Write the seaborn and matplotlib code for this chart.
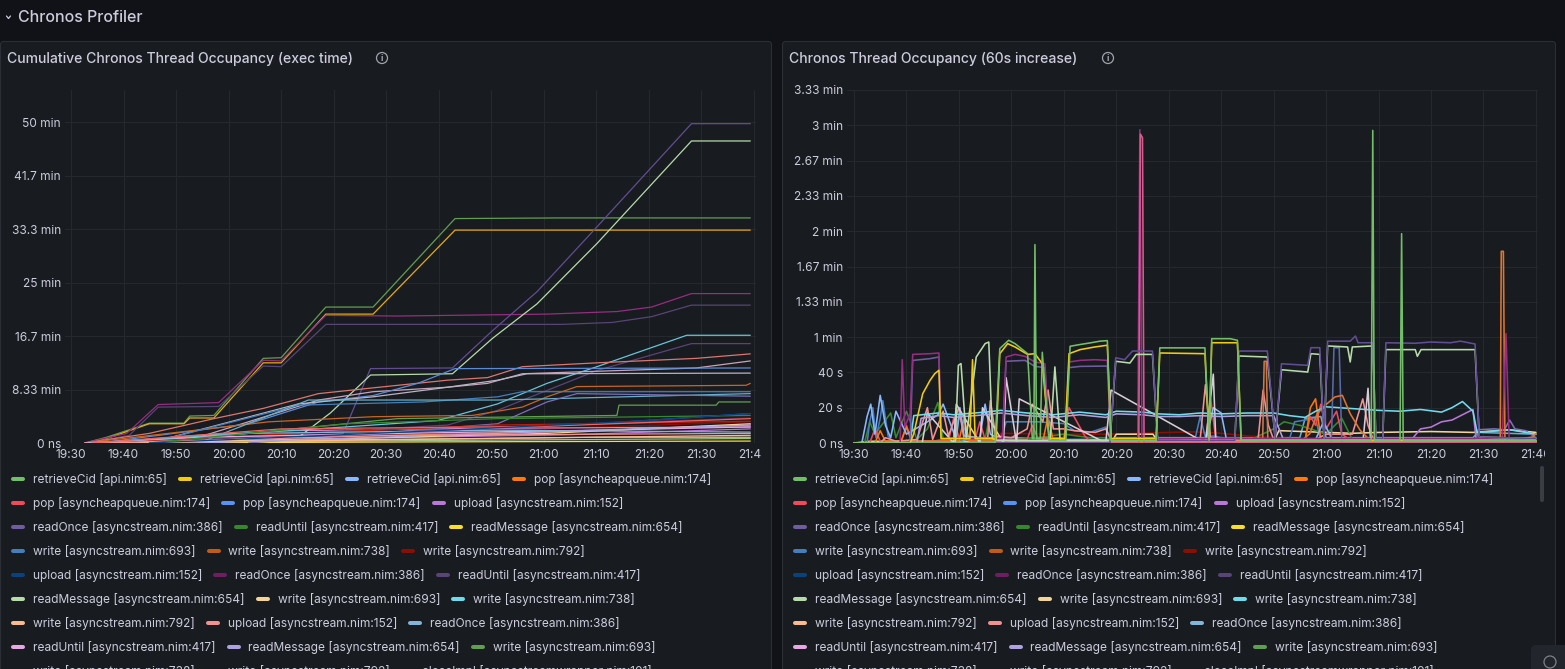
import matplotlib
matplotlib.use("Agg")
import matplotlib.pyplot as plt
from matplotlib.patches import FancyBboxPatch, Circle
from matplotlib.transforms import Bbox
import pandas as pd
import seaborn as sns

sns.set_theme(style="dark")
plt.rcParams["font.family"] = ["Inter", "DejaVu Sans"]

# ---- axis ticks (minutes after 19:30) ----
time_ticks = [0, 10, 20, 30, 40, 50, 60, 70, 80, 90, 100, 110, 120, 130]
time_labels = ["19:30", "19:40", "19:50", "20:00", "20:10", "20:20", "20:30",
               "20:40", "20:50", "21:00", "21:10", "21:20", "21:30", "21:40"]
cum_yticks = [0, 8.333, 16.667, 25, 33.333, 41.667, 50]
cum_ylabels = ["0 ns", "8.33 min", "16.7 min", "25 min", "33.3 min", "41.7 min", "50 min"]
inc_yticks = [0, 20, 40, 60, 80, 100, 120, 140, 160, 180, 200]
inc_ylabels = ["0 ns", "20 s", "40 s", "1 min", "1.33 min", "1.67 min", "2 min",
               "2.33 min", "2.67 min", "3 min", "3.33 min"]

# ---- legend ----
legend_labels = [
    "retrieveCid [api.nim:65]", "retrieveCid [api.nim:65]", "retrieveCid [api.nim:65]",
    "pop [asyncheapqueue.nim:174]", "pop [asyncheapqueue.nim:174]", "pop [asyncheapqueue.nim:174]",
    "upload [asyncstream.nim:152]", "readOnce [asyncstream.nim:386]", "readUntil [asyncstream.nim:417]",
    "readMessage [asyncstream.nim:654]", "write [asyncstream.nim:693]", "write [asyncstream.nim:738]",
    "write [asyncstream.nim:792]", "upload [asyncstream.nim:152]", "readOnce [asyncstream.nim:386]",
    "readUntil [asyncstream.nim:417]", "readMessage [asyncstream.nim:654]", "write [asyncstream.nim:693]",
    "write [asyncstream.nim:738]", "write [asyncstream.nim:792]", "upload [asyncstream.nim:152]",
    "readOnce [asyncstream.nim:386]", "readUntil [asyncstream.nim:417]", "readMessage [asyncstream.nim:654]",
    "write [asyncstream.nim:693]", "write [asyncstream.nim:738]", "write [asyncstream.nim:792]",
    "closeImpl [asyncstreamwrapper.nim:101]",
]
legend_colors = [
    "#73BF69", "#F2CC0C", "#8AB8FF", "#FF780A", "#F2495C", "#5794F2", "#B877D9",
    "#705DA0", "#37872D", "#FADE2A", "#447EBC", "#C15C17", "#890F02", "#0A437C",
    "#6D1F62", "#584477", "#B7DBAB", "#F4D598", "#70DBED", "#F9BA8F", "#F29191",
    "#82B5D8", "#E5A8E2", "#AEA2E0", "#629E51", "#E5AC0E", "#64B0C8", "#E0752D",
]

# ---- cumulative panel (t: minutes after 19:30, v: minutes) ----
cum_a_t = [2.6, 6.8, 14.9, 21.5, 22.6, 27.2, 36.6, 40.0, 48.5, 57.5, 73.1, 93.0, 129.3]
cum_a_v = [0, 0.9, 3.1, 3.1, 4.2, 4.3, 13.2, 13.3, 21.2, 21.2, 35.0, 35.1, 35.1]
cum_b_t = [3.5, 6.8, 14.9, 21.5, 22.6, 27.2, 36.6, 40.0, 48.5, 57.5, 73.1, 129.3]
cum_b_v = [0, 0.7, 3.0, 3.0, 3.9, 3.9, 12.5, 12.5, 20.1, 20.1, 33.2, 33.2]
cum_c_t = [2.6, 10.6, 16.6, 20.5, 28.1, 36.6, 40.0, 48.5, 62.2, 71.7, 90.6, 103.9, 110.5, 118.1, 129.3]
cum_c_v = [0, 1.5, 6.0, 6.1, 6.3, 12.9, 12.8, 19.9, 19.8, 19.9, 20.1, 20.5, 21.2, 23.3, 23.3]
cum_d_t = [3.5, 11.1, 16.6, 28.1, 36.6, 40.0, 48.5, 93.5, 103.0, 110.5, 118.1, 129.3]
cum_d_v = [0, 1.2, 5.6, 5.7, 12.0, 11.9, 18.5, 18.5, 18.8, 19.7, 21.5, 21.5]
cum_e_t = [5.4, 24.3, 43.3, 51.8, 57.0, 72.6, 80.2, 88.7, 100.1, 118.1, 129.3]
cum_e_v = [0, 0.7, 1.2, 1.5, 11.6, 11.7, 17.5, 23.6, 33.7, 49.8, 49.8]
cum_f_t = [14.9, 33.8, 43.3, 49.4, 57.0, 72.6, 80.2, 88.7, 100.1, 118.1, 129.3]
cum_f_v = [0, 0.7, 0.9, 4.7, 10.6, 10.8, 16.3, 21.7, 31.1, 47.1, 47.1]
cum_g_t = [5.4, 24.3, 43.3, 69.8, 81.2, 90.6, 100.1, 117.2, 129.3]
cum_g_v = [0, 1.2, 2.0, 3.5, 6.1, 9.3, 11.9, 16.8, 16.8]
cum_h_t = [14.9, 43.3, 71.7, 81.2, 90.6, 100.1, 118.1, 129.3]
cum_h_v = [0, 1.5, 2.8, 5.1, 8.2, 11.3, 15.5, 15.5]
cum_i_t = [2.6, 14.9, 27.2, 36.6, 47.1, 57.5, 71.7, 79.3, 85.9, 100.1, 119.0, 129.3]
cum_i_v = [0, 1.5, 3.8, 5.4, 7.7, 8.6, 9.8, 10.2, 11.9, 12.5, 13.2, 13.9]
cum_j_t = [10.1, 24.3, 47.1, 57.5, 71.7, 79.3, 85.9, 119.0, 129.3]
cum_j_v = [0, 0.9, 6.7, 8.0, 8.7, 9.3, 10.8, 11.7, 12.8]
cum_k_t = [5.4, 33.8, 47.1, 57.5, 66.0, 73.1, 129.3]
cum_k_v = [0, 3.0, 6.4, 7.4, 9.3, 11.6, 11.7]
cum_l_t = [14.9, 43.3, 57.5, 71.7, 81.2, 86.8, 129.3]
cum_l_v = [0, 6.1, 7.2, 8.7, 9.8, 10.8, 10.9]
cum_m_t = [2.6, 37.6, 57.5, 76.4, 85.9, 90.6, 96.3, 128.5, 129.3]
cum_m_v = [0, 3.3, 4.1, 4.3, 5.6, 7.2, 8.8, 9.0, 9.3]
cum_n_t = [14.9, 43.3, 67.0, 81.2, 85.9, 129.3]
cum_n_v = [0, 5.9, 6.4, 7.2, 8.0, 8.0]
cum_o_t = [24.3, 45.2, 81.2, 129.3]
cum_o_v = [0, 6.7, 6.7, 7.7]
cum_p_t = [14.9, 62.2, 103.9, 104.3, 122.8, 123.3, 129.3]
cum_p_v = [0, 3.8, 4.3, 5.9, 5.9, 6.4, 6.4]
cum_q_t = [33.8, 81.2, 90.6, 96.3, 129.3]
cum_q_v = [0, 3.0, 6.4, 7.7, 7.3]
cum_r_t = [5.4, 43.3, 81.2, 129.3]
cum_r_v = [0, 1.5, 2.8, 3.4]
cum_s_t = [2.6, 24.3, 62.2, 100.1, 129.3]
cum_s_v = [0, 0.9, 1.5, 2.0, 2.5]
cum_u_t = [10.1, 52.7, 90.6, 129.3]
cum_u_v = [0, 0.7, 1.5, 3.0]
cum_w_t = [3.5, 33.8, 81.2, 129.3]
cum_w_v = [0, 1.5, 2.0, 1.7]
cum_x_t = [7.3, 52.7, 100.1, 129.3]
cum_x_v = [0, 0.5, 0.9, 0.9]
cum_y_t = [24.3, 81.2, 129.3]
cum_y_v = [0, 1.5, 2.8]
cum_z_t = [5.4, 62.2, 129.3]
cum_z_v = [0, 1.2, 1.5]
cum_aa_t = [14.9, 52.7, 81.2, 129.3]
cum_aa_v = [0, 3.0, 3.8, 4.3]
cum_ab_t = [4.0, 40.0, 90.0, 129.3]
cum_ab_v = [0, 2.2, 2.6, 3.8]
cum_ac_t = [14.9, 71.7, 109.5, 129.3]
cum_ac_v = [0, 2.0, 3.5, 4.6]
cum_ad_t = [3.0, 40.0, 90.0, 129.3]
cum_ad_v = [0, 0.8, 2.2, 3.3]
cum_ae_t = [6.0, 50.0, 100.0, 129.3]
cum_ae_v = [0, 1.0, 1.9, 2.8]
cum_af_t = [4.0, 45.0, 95.0, 129.3]
cum_af_v = [0, 0.6, 1.3, 2.2]
cum_ag_t = [8.0, 60.0, 129.3]
cum_ag_v = [0, 0.5, 1.2]
cum_ah_t = [3.0, 70.0, 129.3]
cum_ah_v = [0, 0.4, 0.7]
cum_ai_t = [5.0, 80.0, 129.3]
cum_ai_v = [0, 0.2, 0.3]
cum_aj_t = [12.0, 55.0, 85.0, 129.3]
cum_aj_v = [0, 1.4, 2.6, 3.9]
cum_ak_t = [20.0, 70.0, 100.0, 129.3]
cum_ak_v = [0, 1.8, 3.0, 4.6]
cum_al_t = [10.0, 40.0, 80.0, 129.3]
cum_al_v = [0, 1.9, 2.3, 2.5]

cum_series = [
    ("ah", cum_ah_t, cum_ah_v, "#9AC48A"), ("ai", cum_ai_t, cum_ai_v, "#FADE2A"),
    ("ag", cum_ag_t, cum_ag_v, "#F9BA8F"), ("af", cum_af_t, cum_af_v, "#B877D9"),
    ("ae", cum_ae_t, cum_ae_v, "#E0752D"), ("ad", cum_ad_t, cum_ad_v, "#890F02"),
    ("aj", cum_aj_t, cum_aj_v, "#6D1F62"), ("ak", cum_ak_t, cum_ak_v, "#1F60C4"),
    ("al", cum_al_t, cum_al_v, "#D683CE"),
    ("a", cum_a_t, cum_a_v, "#629E51"), ("b", cum_b_t, cum_b_v, "#E5AC0E"),
    ("c", cum_c_t, cum_c_v, "#962D82"), ("d", cum_d_t, cum_d_v, "#584477"),
    ("e", cum_e_t, cum_e_v, "#614D93"), ("f", cum_f_t, cum_f_v, "#B7DBAB"),
    ("g", cum_g_t, cum_g_v, "#65C5DB"), ("h", cum_h_t, cum_h_v, "#584477"),
    ("i", cum_i_t, cum_i_v, "#D9776F"), ("j", cum_j_t, cum_j_v, "#C9A3BB"),
    ("k", cum_k_t, cum_k_v, "#5A8BD6"), ("l", cum_l_t, cum_l_v, "#B8B4C4"),
    ("m", cum_m_t, cum_m_v, "#C8651F"), ("n", cum_n_t, cum_n_v, "#447EBC"),
    ("o", cum_o_t, cum_o_v, "#64B0C8"), ("p", cum_p_t, cum_p_v, "#629E51"),
    ("q", cum_q_t, cum_q_v, "#806EB7"), ("r", cum_r_t, cum_r_v, "#BF1B00"),
    ("s", cum_s_t, cum_s_v, "#E5A8E2"), ("u", cum_u_t, cum_u_v, "#F4D598"),
    ("w", cum_w_t, cum_w_v, "#82B5D8"), ("x", cum_x_t, cum_x_v, "#F9BA8F"),
    ("y", cum_y_t, cum_y_v, "#AEA2E0"), ("z", cum_z_t, cum_z_v, "#F29191"),
    ("aa", cum_aa_t, cum_aa_v, "#37872D"), ("ab", cum_ab_t, cum_ab_v, "#EA6460"),
    ("ac", cum_ac_t, cum_ac_v, "#0A437C"),
]

# ---- 60s increase panel (t: minutes after 19:30, v: seconds) ----
inc_lg_t = [0, 19.3, 19.9, 20.4, 21.4, 23.3, 25.0, 25.7, 26.4, 27.4, 37.4, 38.3, 39.3, 48.8, 49.9,
            52.6, 53.8, 56.9, 57.9, 72.6, 73.4, 78.8, 80.3, 81.5, 86.5, 87.1, 88.8, 89.6, 90.3,
            94.1, 94.6, 95.0, 98.9, 99.5, 100.8, 101.4, 107.0, 107.4, 108.1, 118.4, 119.2, 130.0]
inc_lg_v = [0, 0, 44.0, 45.0, 2.5, 48.7, 56.3, 57.2, 2.5, 1.5, 1.5, 43.1, 1.5, 1.5, 46.3,
            45.3, 50.2, 50.2, 1.5, 1.5, 49.3, 48.7, 2.5, 41.5, 40.2, 50.6, 50.2, 2.5, 55.0,
            54.4, 45.9, 54.4, 55.0, 2.5, 2.5, 52.9, 52.9, 49.1, 52.9, 52.9, 3.4, 2.5]
inc_pu_t = [0, 48.8, 49.9, 51.6, 53.1, 56.9, 57.9, 72.6, 73.4, 78.8, 80.3, 81.5, 86.5, 87.1, 88.8,
            89.6, 90.3, 94.6, 95.6, 96.1, 98.9, 99.5, 100.8, 101.4, 107.0, 109.9, 113.7, 115.6,
            118.4, 119.2, 130.0]
inc_pu_v = [0, 0, 48.3, 47.2, 52.1, 52.1, 1.5, 1.5, 52.1, 52.1, 2.5, 44.9, 44.0, 54.0, 54.0,
            2.5, 57.7, 57.7, 60.6, 56.8, 56.8, 2.5, 2.5, 56.8, 56.5, 57.2, 56.8, 57.7,
            56.1, 3.4, 2.5]
inc_ye_t = [0, 10.7, 11.4, 13.1, 14.5, 15.4, 16.2, 16.6, 22.1, 22.6, 23.1, 27.1, 27.8, 29.3, 30.7,
            33.1, 34.5, 35.9, 37.2, 40.2, 41.0, 43.1, 45.9, 48.3, 49.0, 57.6, 58.3, 66.9, 67.7,
            68.2, 73.1, 73.8, 130.0]
inc_ye_v = [0, 0, 5.3, 27.9, 35.5, 39.3, 41.2, 2.5, 2.5, 47.2, 2.5, 2.5, 50.6, 56.3, 54.4,
            50.2, 50.6, 44.9, 2.5, 2.5, 50.6, 52.9, 54.4, 55.4, 2.5, 2.5, 51.0, 50.6, 2.5,
            56.8, 56.8, 1.5, 1.5]
inc_gr_t = [0, 26.9, 27.8, 29.5, 30.7, 33.1, 34.0, 34.3, 34.5, 34.8, 35.5, 35.9, 37.2, 40.4, 41.2,
            43.1, 45.0, 46.9, 48.3, 49.0, 57.6, 58.3, 66.9, 67.7, 68.2, 71.7, 73.1, 73.8, 98.6,
            98.9, 99.2, 104.1, 104.4, 104.7, 130.0]
inc_gr_v = [0, 0, 53.5, 58.2, 56.3, 50.6, 2.5, 2.5, 112.4, 2.5, 2.5, 51.4, 1.5, 1.5, 54.8,
            55.8, 56.7, 57.7, 58.0, 1.5, 1.5, 53.9, 53.9, 1.5, 59.1, 59.1, 58.2, 1.5, 1.5,
            177.1, 1.5, 1.5, 118.6, 1.5, 1.5]
inc_mg_t = [0, 8.8, 9.2, 9.7, 10.7, 11.2, 14.5, 16.2, 16.6, 28.3, 29.0, 30.7, 32.6, 34.5, 36.4,
            37.2, 40.2, 41.0, 43.1, 45.9, 48.3, 49.0, 54.1, 54.5, 54.9, 123.6, 124.3, 124.9, 130.0]
inc_mg_v = [0, 0, 47.2, 9.1, 16.6, 50.2, 50.6, 51.0, 2.5, 2.5, 48.7, 50.2, 49.1, 45.9, 44.9,
            2.5, 2.5, 45.9, 46.8, 47.2, 46.8, 2.5, 2.5, 177.5, 2.5, 2.5, 62.0, 2.5, 1.5]
inc_dp_t = [0, 10.7, 11.2, 14.5, 16.2, 16.6, 28.3, 29.0, 32.6, 34.5, 36.4, 37.2, 40.2, 41.0, 43.1,
            48.3, 49.0, 130.0]
inc_dp_v = [0, 0, 46.8, 47.8, 48.7, 2.5, 2.5, 46.3, 46.8, 43.4, 42.7, 2.5, 2.5, 42.7, 43.4,
            43.6, 2.5, 2.5]
inc_pk_t = [0, 54.3, 54.6, 55.0, 55.3, 130.0]
inc_pk_v = [0, 0, 175.0, 173.0, 0, 0]
inc_br_t = [0, 77.9, 78.2, 78.6, 78.9, 130.0]
inc_br_v = [0, 0, 46.3, 46.3, 0.5, 0.5]
inc_or_t = [0, 85.0, 86.9, 88.3, 89.8, 91.7, 93.1, 94.6, 96.5, 98.4, 123.2, 123.4, 123.8, 124.1, 129.4, 130.0]
inc_or_v = [0, 0.5, 5.3, 16.6, 21.3, 26.1, 27.0, 16.6, 7.2, 1.5, 1.0, 108.6, 108.6, 1.0, 3.4, 5.3]
inc_cy_t = [0, 10.7, 11.4, 16.0, 19.0, 25.0, 28.0, 33.0, 38.0, 43.0, 48.0, 50.0, 55.0, 58.0, 62.0,
            66.0, 70.0, 75.0, 80.0, 83.0, 86.0, 88.0, 90.0, 95.0, 100.0, 104.0, 108.0, 112.0,
            114.0, 116.0, 118.0, 118.8, 125.0, 130.0]
inc_cy_v = [0, 0, 15.5, 17.0, 16.0, 17.5, 18.5, 17.0, 16.0, 17.5, 16.0, 18.0, 17.5, 16.5, 16.0,
            17.0, 16.5, 17.0, 17.0, 15.5, 14.5, 18.0, 20.5, 19.5, 18.5, 18.0, 19.0, 17.5,
            20.0, 23.5, 18.0, 6.0, 7.5, 5.0]
inc_lv_t = [0, 12.0, 12.8, 16.0, 19.0, 25.0, 28.0, 33.0, 38.0, 43.0, 48.0, 50.0, 55.0, 58.0, 62.0,
            66.0, 70.0, 75.0, 80.0, 82.0, 130.0]
inc_lv_v = [0, 0, 14.0, 15.5, 14.5, 16.0, 17.0, 15.5, 14.5, 16.0, 14.5, 16.5, 16.0, 15.0, 15.0,
            15.5, 15.0, 15.5, 15.5, 1.0, 0.5]
inc_pr_t = [0, 104.0, 106.6, 108.0, 110.0, 112.0, 114.0, 116.0, 118.0, 118.6, 130.0]
inc_pr_v = [0, 0.5, 3.0, 8.0, 9.0, 12.0, 13.0, 16.0, 19.0, 2.0, 1.0]
inc_dr_t = [0, 27.0, 28.0, 40.0, 49.0, 55.0, 60.0, 65.0, 70.0, 75.0, 80.0, 85.0, 88.0, 130.0]
inc_dr_v = [0, 0, 5.5, 5.0, 5.0, 5.5, 6.0, 6.3, 5.5, 4.0, 3.0, 2.0, 0.5, 0]
inc_be_t = [0, 49.0, 50.0, 57.0, 58.0, 80.0, 81.0, 90.0, 95.0, 100.0, 110.0, 118.0, 125.0, 130.0]
inc_be_v = [0, 0, 5.0, 5.0, 0.5, 0.5, 7.0, 6.0, 5.5, 6.0, 6.5, 6.0, 7.5, 6.0]
inc_bl_t = [0, 2.5, 3.0, 3.6, 4.2, 5.0, 5.5, 6.5, 7.0, 7.5, 15.0, 19.0, 20.0, 22.0, 28.0, 29.0,
            35.0, 40.0, 42.0, 45.0, 48.0, 49.0, 55.0, 60.0, 65.0, 66.0, 67.0, 68.5, 70.0, 83.0,
            84.0, 86.0, 88.0, 89.0, 130.0]
inc_bl_v = [0, 0, 12, 20, 3, 14, 24, 4, 2, 1, 1, 3, 15, 2, 2, 12, 12, 11, 7, 6, 9, 1, 1, 1, 2,
            15, 3, 4, 3, 2, 12, 13, 14, 1, 1]
inc_lb_t = [0, 1.5, 2.5, 3.2, 4.0, 5.0, 6.0, 7.0, 8.0, 10.0, 14.0, 16.0, 17.0, 19.5, 20.2, 21.0,
            24.0, 25.0, 26.0, 28.0, 30.0, 35.0, 40.0, 50.0, 60.0, 67.0, 68.5, 70.0, 71.0, 88.0,
            89.5, 91.0, 100.0, 130.0]
inc_lb_v = [0, 0, 15, 22, 5, 27, 10, 3, 18, 5, 12, 16, 22, 2, 20, 4, 3, 22, 5, 2, 1, 1, 1, 1, 1,
            0, 20, 17, 2, 2, 12, 3, 1, 1]
inc_pn_t = [0, 5, 6, 8, 12, 14, 15, 17, 18, 20, 21, 25.5, 26, 27, 30, 33, 34, 36, 37, 38, 40, 42,
            46, 48, 49, 50, 60, 66, 67, 68, 70, 77, 78, 79, 80, 88, 90, 95, 97, 98, 99, 100, 130]
inc_pn_v = [0, 0, 3, 1, 2, 20, 2, 18, 4, 20, 2, 3, 24, 4, 3, 8, 22, 12, 30, 8, 8, 7, 6, 8, 2, 1,
            1, 2, 33, 2, 1, 1, 30, 10, 2, 2, 5, 5, 25, 10, 2, 1, 1]
inc_wg_t = [0, 13, 14, 19, 19.5, 24, 24.5, 28.5, 29, 31, 31.5, 48, 49, 67, 68.5, 69, 97, 98, 98.5, 130]
inc_wg_v = [0, 0, 17, 0, 22, 0, 20, 0, 37, 0, 25, 0, 30, 0, 39, 0, 0, 31, 0, 0]
inc_g2_t = [0, 2, 3, 4, 7, 8, 10, 12, 14, 16, 17, 18, 25, 26, 27, 35, 40, 45, 48, 50, 75, 80, 82,
            85, 88, 90, 93, 95, 130]
inc_g2_v = [0, 0, 12, 5, 17, 3, 18, 2, 8, 23, 2, 3, 2, 18, 1, 3, 5, 3, 3, 1, 1, 8, 12, 10, 7, 5,
            14, 2, 1]
inc_nv_t = [0, 91.0, 91.5, 92.5, 93.0, 130.0]
inc_nv_v = [0, 0, 54.0, 54.0, 0, 0]
inc_en_t = [0, 118.5, 119.0, 122.0, 124.0, 125.0, 126.0, 128.0, 130.0]
inc_en_v = [0, 0, 7.5, 8.0, 7.5, 13.0, 8.0, 7.0, 3.0]
inc_rd_t = [0, 3, 4, 5, 9, 10, 11, 18, 19, 20, 23, 24, 25, 33, 34, 35, 40, 41, 44, 45, 67, 68, 69,
            86, 87, 88, 89, 90, 92, 93, 95, 130]
inc_rd_v = [0, 0, 8, 1, 1, 10, 1, 1, 14, 3, 1, 12, 2, 2, 10, 3, 3, 20, 4, 1, 1, 25, 2, 2, 15, 10,
            22, 8, 18, 5, 1, 1]
inc_tl_t = [0, 20, 22, 30, 40, 49, 50, 58, 85, 86, 89, 90, 100, 118, 119, 130]
inc_tl_v = [0, 0, 3, 3, 2, 2, 3, 3, 3, 14, 15, 3, 3, 3, 6, 5]
inc_o2_t = [0, 4, 5, 6, 9, 10, 11, 20, 21, 22, 36, 37, 38, 86, 87, 88, 89, 130]
inc_o2_v = [0, 0, 7, 1, 1, 9, 1, 1, 14, 1, 1, 15, 1, 1, 20, 25, 2, 1]
inc_bs_t = [0, 3, 130]
inc_bs_v = [0, 1.0, 1.0]

inc_series = [
    ("bs", inc_bs_t, inc_bs_v, "#F9BA8F"), ("tl", inc_tl_t, inc_tl_v, "#64B0C8"),
    ("dr", inc_dr_t, inc_dr_v, "#890F02"), ("be", inc_be_t, inc_be_v, "#F4D598"),
    ("g2", inc_g2_t, inc_g2_v, "#37872D"), ("bl", inc_bl_t, inc_bl_v, "#447EBC"),
    ("rd", inc_rd_t, inc_rd_v, "#F2495C"), ("o2", inc_o2_t, inc_o2_v, "#FF780A"),
    ("lb", inc_lb_t, inc_lb_v, "#8AB8FF"), ("pn", inc_pn_t, inc_pn_v, "#F29191"),
    ("wg", inc_wg_t, inc_wg_v, "#D8CCD8"), ("pr", inc_pr_t, inc_pr_v, "#B877D9"),
    ("en", inc_en_t, inc_en_v, "#806EB7"), ("lv", inc_lv_t, inc_lv_v, "#AEA2E0"),
    ("cy", inc_cy_t, inc_cy_v, "#70DBED"), ("nv", inc_nv_t, inc_nv_v, "#5A6AA8"),
    ("br", inc_br_t, inc_br_v, "#C9794A"), ("or", inc_or_t, inc_or_v, "#E0752D"),
    ("dp", inc_dp_t, inc_dp_v, "#705DA0"), ("mg", inc_mg_t, inc_mg_v, "#962D82"),
    ("pk", inc_pk_t, inc_pk_v, "#D65C8F"), ("lg", inc_lg_t, inc_lg_v, "#B7DBAB"),
    ("pu", inc_pu_t, inc_pu_v, "#614D93"), ("ye", inc_ye_t, inc_ye_v, "#F2CC0C"),
    ("gr", inc_gr_t, inc_gr_v, "#73BF69"),
]

BG = "#111217"
PANEL = "#181b1f"
BORDER = "#2b2e34"
GRID = "#25282d"
TXT = "#ccccdc"
W, H = 1565, 669


def long_frame(series):
    rows = []
    for name, ts, vs, _ in series:
        rows += [{"t": t, "v": v, "name": name} for t, v in zip(ts, vs)]
    return pd.DataFrame(rows)


fig = plt.figure(figsize=(W / 100, H / 100), dpi=100, facecolor=BG)

over = fig.add_axes([0, 0, 1, 1], zorder=0)
over.set_xlim(0, W)
over.set_ylim(H, 0)
over.axis("off")

# header
over.plot([6.5, 8.5, 10.5], [16, 18.5, 16], color=TXT, lw=0.9, solid_capstyle="round")
over.text(18, 17, "Chronos Profiler", color=TXT, fontsize=11.5, fontweight="medium",
          va="center", ha="left")

panels = [
    (0.5, 771, "Cumulative Chronos Thread Occupancy (exec time)", 382),
    (782.5, 773, "Chronos Thread Occupancy (60s increase)", 1108),
]
for px, pw, title, icon_x in panels:
    over.add_patch(FancyBboxPatch((px, 41.5), pw, 650, boxstyle="round,pad=0,rounding_size=3",
                                  fc=PANEL, ec=BORDER, lw=0.8))
    over.text(px + 6.5, 59, title, color=TXT, fontsize=10.1, fontweight="medium",
              va="center", ha="left")
    over.add_patch(Circle((icon_x, 58), 5.5, fill=False, ec="#a0a3ab", lw=0.9))
    over.text(icon_x, 58.5, "i", color="#a0a3ab", fontsize=6.5, ha="center", va="center",
              fontweight="bold")

# right legend scrollbar and corner widget
over.add_patch(FancyBboxPatch((1540, 466), 4, 36, boxstyle="round,pad=0,rounding_size=2",
                              fc="#3a3d44", ec="none"))
over.add_patch(FancyBboxPatch((1531, 645), 40, 30, boxstyle="round,pad=0,rounding_size=5",
                              fc="#22252b", ec="none"))
over.add_patch(Circle((1550, 662), 6, fill=False, ec="#7d8088", lw=0.9))


def draw_legend(x0, right):
    renderer = fig.canvas.get_renderer()
    x, y = x0 + 11, 479
    for label, col in zip(legend_labels, legend_colors):
        t = over.text(x + 22, y, label, color=TXT, fontsize=8.6, va="center", ha="left")
        w = t.get_window_extent(renderer=renderer).width
        if x + 22 + w > right and x > x0 + 11:
            x, y = x0 + 11, y + 24
            t.set_position((x + 22, y))
        over.plot([x + 2, x + 12], [y, y], color=col, lw=2.9, solid_capstyle="round")
        x = x + 22 + w + 11


draw_legend(0, 760)
draw_legend(782, 1542)


def draw_panel(x0, x1, series, ylim, yticks, ylabels, xlim, lw, clip_right):
    ax = fig.add_axes([x0 / W, 1 - 443 / H, (x1 - x0) / W, (443 - 90) / H], zorder=2)
    ax.set_facecolor("none")
    palette = {name: col for name, _, _, col in series}
    sns.lineplot(data=long_frame(series), x="t", y="v", hue="name", palette=palette,
                 estimator=None, sort=False, legend=False, linewidth=lw, ax=ax)
    ax.set_xlim(*xlim)
    ax.set_ylim(*ylim)
    ax.set_xticks(time_ticks)
    ax.set_xticklabels(time_labels)
    ax.set_yticks(yticks)
    ax.set_yticklabels(ylabels)
    ax.set_xlabel("")
    ax.set_ylabel("")
    ax.grid(True, color=GRID, lw=0.8)
    ax.set_axisbelow(True)
    for s in ax.spines.values():
        s.set_visible(False)
    ax.tick_params(axis="x", length=0, colors=TXT, labelsize=8.6, pad=4.3)
    ax.tick_params(axis="y", length=0, colors=TXT, labelsize=8.6, pad=2.9)
    last = ax.get_xticklabels()[-1]
    last.set_clip_box(Bbox([[0, 0], [clip_right, H]]))
    last.set_clip_on(True)
    return ax


draw_panel(65, 756, cum_series, (0, 55.05), cum_yticks, cum_ylabels, (-1.14, 130.38), 0.9, 761)
draw_panel(847, 1538, inc_series, (0, 200), inc_yticks, inc_ylabels, (-1.33, 130.4), 1.15, 1545)

fig.savefig("out.png", dpi=100, facecolor=BG)
